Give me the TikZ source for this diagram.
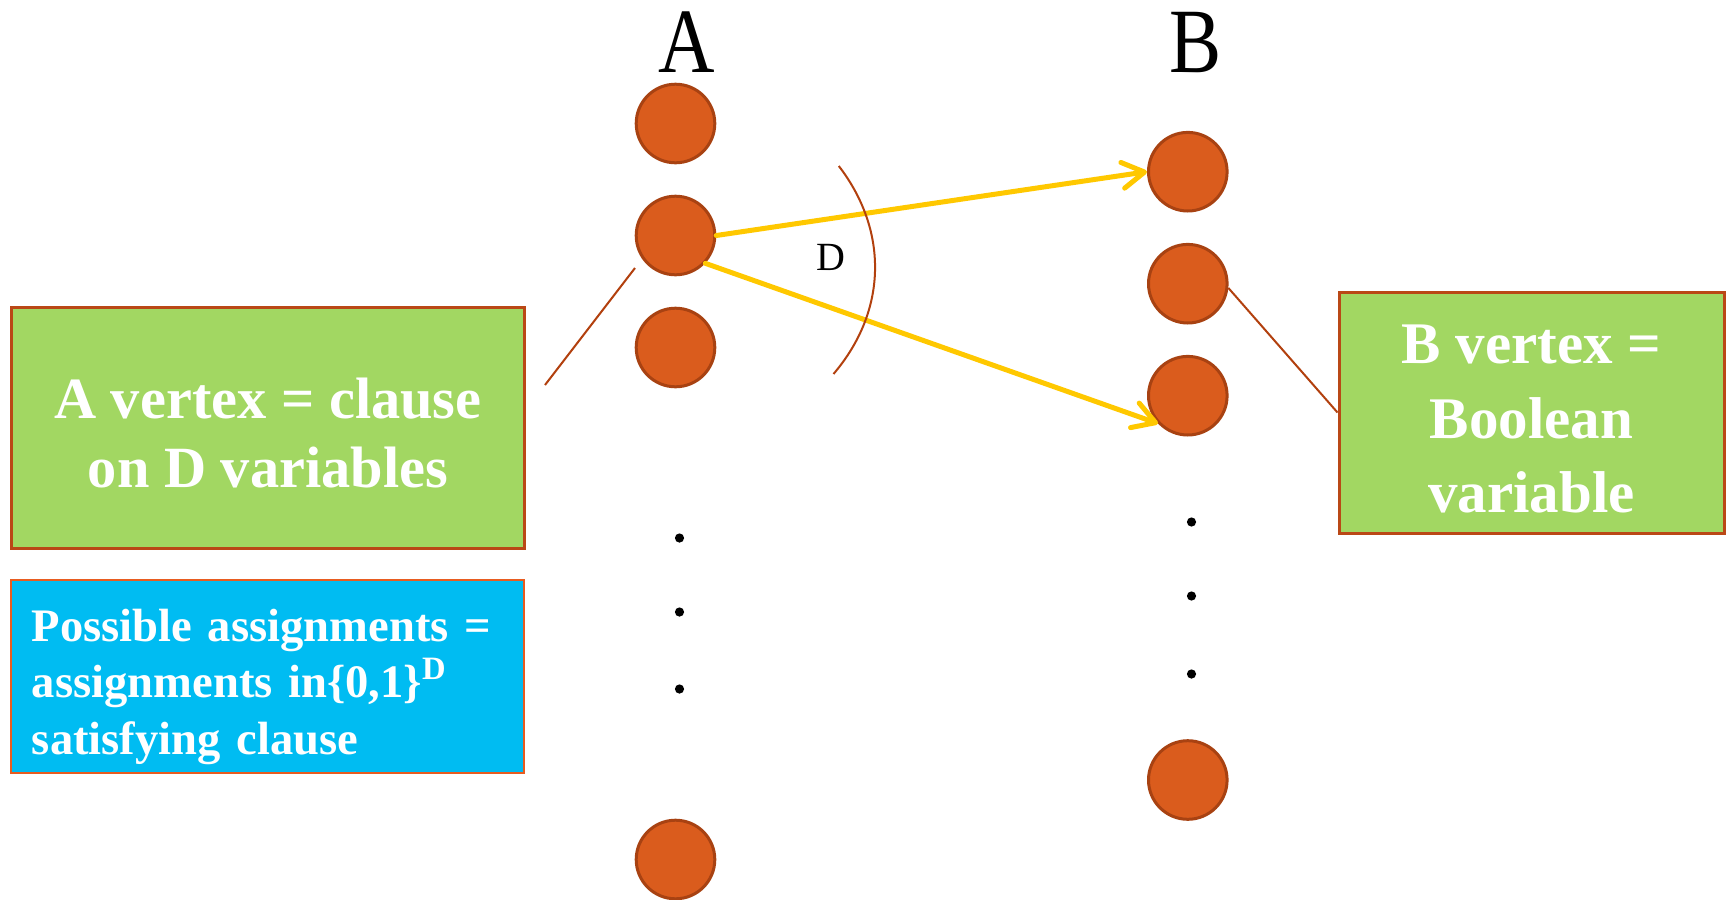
\documentclass[tikz,border=0pt]{standalone}
\usepackage{fontspec}
\setmainfont{Liberation Serif}
\usetikzlibrary{arrows.meta}

\definecolor{vtxfill}{RGB}{218,92,29}
\definecolor{vtxline}{RGB}{168,66,18}
\definecolor{boxgreen}{RGB}{162,215,98}
\definecolor{boxblue}{RGB}{0,188,242}
\definecolor{greenline}{RGB}{186,72,22}
\definecolor{blueline}{RGB}{232,92,32}
\definecolor{arrowyellow}{RGB}{255,200,0}
\definecolor{callout}{RGB}{178,64,14}

\tikzset{
  vtx/.style={circle,fill=vtxfill,draw=vtxline,line width=1.5pt,minimum size=39.3pt,inner sep=0pt},
  dot/.style={circle,fill=black,minimum size=4.6pt,inner sep=0pt},
  gbox/.style={rectangle,fill=boxgreen,draw=greenline,line width=1.5pt},
  bbox/.style={rectangle,fill=boxblue,draw=blueline,line width=1pt},
  gtext/.style={text=white,align=center,inner sep=0pt,font=\fontsize{29.2}{34.5}\selectfont\bfseries},
  btext/.style={text=white,align=left,inner sep=0pt,text width=236pt,font=\fontsize{23.3}{28.2}\selectfont\bfseries},
  yarrow/.style={draw=arrowyellow,line width=2.5pt,line cap=round,-{Straight Barb[length=11pt,width=13pt,round]}},
  callline/.style={draw=callout,line width=1pt},
}

\begin{document}
\begin{tikzpicture}[x=0.5pt,y=-0.5pt,node distance=56pt]
  \useasboundingbox (0,0) rectangle (1731,900);

  % column A
  \node[anchor=base,font=\fontsize{46}{46}\selectfont] (alabel) at (687,72) {\scalebox{0.85}[1]{A}};
  \node[vtx] (a1) at (675.5,123.5) {};
  \node[vtx,below of=a1] (a2) {};
  \node[vtx,below of=a2] (a3) {};
  \node[vtx] (a4) at (675.5,859.5) {};
  \foreach \y [count=\i] in {538,612,689}
    \node[dot] (adot\i) at (679.5,\y) {};

  % column B
  \node[anchor=base,font=\fontsize{46}{46}\selectfont] (blabel) at (1196,72) {\scalebox{0.85}[1]{B}};
  \node[vtx] (b1) at (1187.8,171.7) {};
  \node[vtx,below of=b1] (b2) {};
  \node[vtx,below of=b2] (b3) {};
  \node[vtx] (b4) at (1187.8,780) {};
  \foreach \y [count=\i] in {522,596,674}
    \node[dot] (bdot\i) at (1191.5,\y) {};

  % edges of one clause
  \draw[yarrow] (a2.east) -- (b1.west);
  \draw[yarrow] (a2.-43) -- (b3.223);

  % degree mark
  \draw[callout,line width=1pt] (838.8,166) .. controls (888,230) and (888,310) .. (833.5,374);
  \node[anchor=base,font=\fontsize{20}{20}\selectfont] (deg) at (831,270) {D};

  % explanations
  \node[gbox,minimum width=256.5pt,minimum height=120.5pt] (avert) at (267.9,427.8) {};
  \node[gtext] (avertext) at ([yshift=-2.8pt]avert.center) {A vertex = clause\\on D variables};

  \node[bbox,minimum width=256.5pt,minimum height=96.7pt] (assign) at (267.9,676.7) {};
  \node[btext] (assigntext) at ([yshift=-5pt]assign.center)
    {Possible assignments =\\assignments in\{0,1\}\textsuperscript{D}\\satisfying clause};

  \node[gbox,minimum width=192.5pt,minimum height=120.5pt] (bvert) at (1531.5,412.5) {};
  \node[gtext,font=\fontsize{29.5}{37.3}\selectfont\bfseries] (bvertext) at ([yshift=-3.3pt]bvert.center)
    {B vertex =\\Boolean\\variable};

  \coordinate (cl1) at (545,385);
  \coordinate (cl2) at (635,268);
  \draw[callline] (cl1) -- (cl2);
  \draw[callline] (b2.-6) -- (bvert.west);
\end{tikzpicture}
\end{document}
